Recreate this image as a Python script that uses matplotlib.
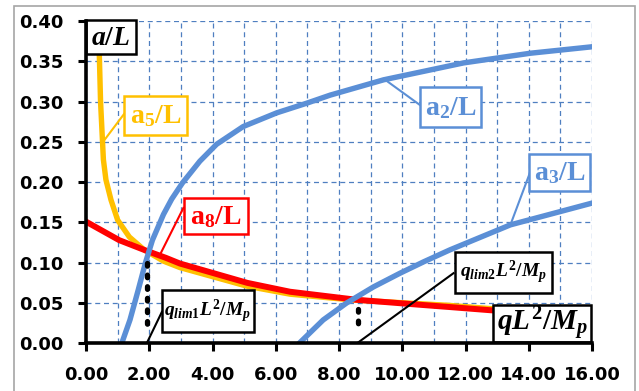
import matplotlib

matplotlib.use("Agg")
import matplotlib.pyplot as plt
from matplotlib.patches import Rectangle

# values
a2_q = [1.13, 1.39, 1.65, 1.88, 2.1, 2.45, 2.71, 3.05, 3.6, 4.13, 4.97, 6.03,
        6.98, 7.72, 9.41, 11.94, 14.05, 16.0]
a2_y = [0.0, 0.029, 0.066, 0.10, 0.128, 0.16, 0.179, 0.199, 0.226, 0.247,
        0.269, 0.286, 0.298, 0.308, 0.327, 0.348, 0.36, 0.368]

a3_q = [6.74, 7.5, 8.24, 9.09, 9.93, 10.67, 11.51, 13.42, 16.0]
a3_y = [0.0, 0.029, 0.05, 0.07, 0.087, 0.101, 0.116, 0.147, 0.174]

a5_q = [0.40, 0.42, 0.46, 0.51, 0.55, 0.63, 0.79, 1.0, 1.37, 1.84, 2.45,
        2.97, 5.08, 6.45, 8.35, 11.5, 12.8, 16.0]
a5_y = [0.40, 0.36, 0.30, 0.26, 0.228, 0.203, 0.178, 0.153, 0.132, 0.116,
        0.102, 0.094, 0.071, 0.061, 0.054, 0.047, 0.043, 0.038]

a8_q = [0.0, 1.05, 1.9, 2.53, 2.97, 5.1, 6.45, 8.56, 10.5, 11.5, 12.8, 16.0]
a8_y = [0.151, 0.128, 0.115, 0.106, 0.099, 0.075, 0.064, 0.054, 0.048, 0.045,
        0.041, 0.035]

qlim1, qlim1_top = 1.92, 0.100
qlim2, qlim2_top = 8.6, 0.042

BLUE = "#5B8FD6"
GOLD = "#FFC000"
RED = "#FF0000"
GRID = "#4F7FC0"

plt.rcParams["mathtext.fontset"] = "custom"
plt.rcParams["mathtext.rm"] = "Liberation Serif:bold"
plt.rcParams["mathtext.it"] = "Liberation Serif:italic:bold"
plt.rcParams["mathtext.bf"] = "Liberation Serif:bold"

fig = plt.figure(figsize=(6.39, 3.91), dpi=100)
fig.patches.append(Rectangle((14 / 639, -0.05), 621 / 639, 1 - 6 / 391 + 0.05,
                             transform=fig.transFigure, fill=False,
                             ec="#A6A6A6", lw=1.2, zorder=-5))
ax = fig.add_axes([86 / 639, 1 - 343.3 / 391, 506 / 639, 322.3 / 391])

ax.set_xlim(0, 16)
ax.set_ylim(0, 0.40)
ax.set_xticks([0, 2, 4, 6, 8, 10, 12, 14, 16])
ax.set_xticks(range(1, 17, 2), minor=True)
ax.set_yticks([0, 0.05, 0.10, 0.15, 0.20, 0.25, 0.30, 0.35, 0.40])
ax.set_xticklabels([f"{v:.2f}" for v in ax.get_xticks()])
ax.set_yticklabels([f"{v:.2f}" for v in ax.get_yticks()])
ax.tick_params(axis="both", which="major", length=6, width=2.2, pad=10,
               labelsize=13)
ax.tick_params(axis="x", which="minor", length=0)
for lab in ax.get_xticklabels() + ax.get_yticklabels():
    lab.set_fontweight("bold")
ax.grid(True, which="both", color=GRID, ls=(0, (4, 3)), lw=0.9)
ax.set_axisbelow(True)
for side in ("top", "right"):
    ax.spines[side].set_visible(False)
for side in ("left", "bottom"):
    ax.spines[side].set_linewidth(2.6)
    ax.spines[side].set_zorder(6)

ax.plot(a5_q, a5_y, color=GOLD, lw=3.9, solid_joinstyle="round", zorder=3)
ax.plot(a8_q, a8_y, color=RED, lw=4.3, solid_joinstyle="round", zorder=3)
ax.plot(a2_q, a2_y, color=BLUE, lw=3.9, solid_joinstyle="round", zorder=3)
ax.plot(a3_q, a3_y, color=BLUE, lw=3.9, solid_joinstyle="round", zorder=3)

for q, top in ((qlim1, qlim1_top), (qlim2, qlim2_top)):
    ax.plot([q, q], [top, 0.0144], color="black", lw=3.8,
            ls=(0, (0.5, 1.7)), dash_capstyle="round", zorder=4)


def label(x0, x1, y0, y1, text, color, size, leader=None):
    if leader:
        (lx0, ly0), (lx1, ly1) = leader
        ax.plot([lx0, lx1], [ly0, ly1], color=color, lw=1.5, zorder=4)
    ax.add_patch(Rectangle((x0, y0), x1 - x0, y1 - y0, fc="white",
                           ec=color, lw=1.8, zorder=5, clip_on=False))
    ax.text((x0 + x1) / 2, (y0 + y1) / 2, text, color=color, fontsize=size,
            ha="center", va="center", zorder=7)


label(0.0, 1.58, 0.3594, 0.4016, r"$a/L$", "black", 20)
label(1.20, 3.19, 0.259, 0.307, r"$\mathrm{a_5/L}$", GOLD, 20,
      ((1.23, 0.286), (0.50, 0.248)))
label(10.56, 12.49, 0.269, 0.318, r"$\mathrm{a_2/L}$", BLUE, 20,
      ((10.62, 0.294), (9.46, 0.327)))
label(14.01, 15.94, 0.189, 0.235, r"$\mathrm{a_3/L}$", BLUE, 20,
      ((14.05, 0.213), (13.42, 0.147)))
label(3.10, 5.12, 0.136, 0.180, r"$\mathrm{a_8/L}$", RED, 20,
      ((3.08, 0.168), (2.34, 0.110)))
label(2.40, 5.31, 0.014, 0.066, r"$q_{lim1}L^2/M_p$", "black", 14,
      ((2.40, 0.039), (1.92, 0.0)))
label(11.67, 14.74, 0.0625, 0.113, r"$q_{lim2}L^2/M_p$", "black", 14,
      ((11.62, 0.087), (8.57, 0.0)))
label(12.87, 15.97, 0.0016, 0.048, r"$qL^2/M_p$", "black", 21)

fig.savefig("out.png", dpi=100)
plt.close(fig)
